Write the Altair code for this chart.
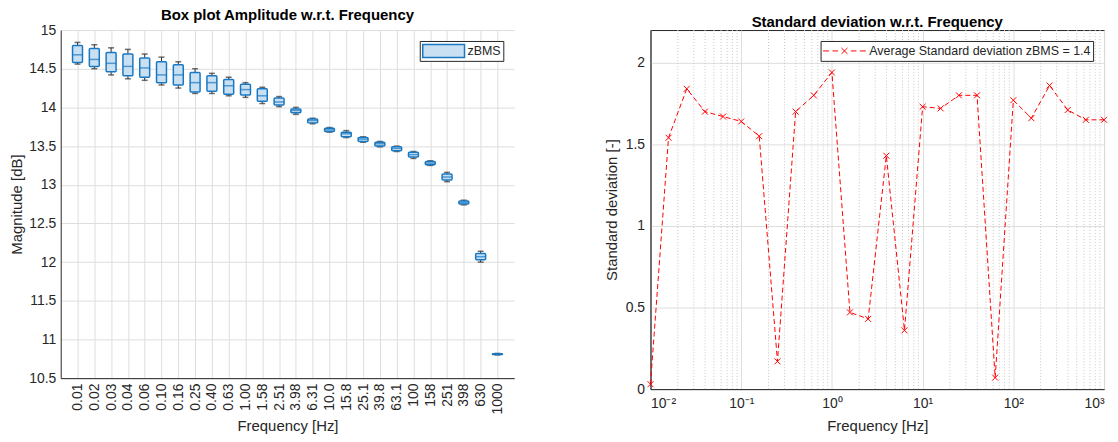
import altair as alt
import pandas as pd

FONT = "Liberation Sans"
TXT = "#262626"
GRID = "#dedede"
BLUE = "#1a78c2"
FILL = "#c8e0f2"
RED = "#ff0000"

# ---------------- data: box plot ----------------
freq_labels = ["0.01", "0.02", "0.03", "0.04", "0.06", "0.10", "0.16", "0.25", "0.40",
               "0.63", "1.00", "1.58", "2.51", "3.98", "6.31", "10.0", "15.8", "25.1",
               "39.8", "63.1", "100", "158", "251", "398", "630", "1000"]
whisker_hi = [14.84, 14.81, 14.77, 14.75, 14.69, 14.65, 14.59, 14.50, 14.44, 14.39, 14.32,
              14.26, 14.14, 14.00, 13.86, 13.74, 13.70, 13.62, 13.56, 13.50, 13.43, 13.31,
              13.16, 12.80, 12.14, 10.82]
box_q3 = [14.80, 14.76, 14.71, 14.69, 14.64, 14.59, 14.55, 14.45, 14.41, 14.36, 14.30,
          14.24, 14.12, 13.98, 13.85, 13.73, 13.68, 13.61, 13.55, 13.49, 13.42, 13.30,
          13.14, 12.79, 12.11, 10.815]
box_median = [14.68, 14.62, 14.57, 14.53, 14.51, 14.42, 14.42, 14.32, 14.32, 14.28, 14.23,
              14.15, 14.07, 13.96, 13.83, 13.71, 13.66, 13.59, 13.53, 13.47, 13.39, 13.28,
              13.10, 12.77, 12.07, 10.81]
box_q1 = [14.58, 14.53, 14.46, 14.41, 14.39, 14.32, 14.29, 14.20, 14.21, 14.17, 14.16,
          14.08, 14.03, 13.93, 13.80, 13.69, 13.62, 13.56, 13.50, 13.44, 13.36, 13.26,
          13.06, 12.75, 12.03, 10.805]
whisker_lo = [14.56, 14.50, 14.42, 14.37, 14.35, 14.29, 14.25, 14.18, 14.18, 14.15, 14.13,
              14.05, 14.01, 13.91, 13.79, 13.68, 13.61, 13.55, 13.49, 13.43, 13.34, 13.25,
              13.04, 12.74, 12.00, 10.80]
magnitude_ticks = [10.5, 11, 11.5, 12, 12.5, 13, 13.5, 14, 14.5, 15]

# ---------------- data: standard deviation ----------------
freq_hz = [0.01, 0.0158, 0.0251, 0.0398, 0.0631, 0.1, 0.158, 0.251, 0.398, 0.631, 1.0,
           1.58, 2.51, 3.98, 6.31, 10.0, 15.8, 25.1, 39.8, 63.1, 100, 158, 251, 398, 630, 1000]
std_dev = [0.03, 1.54, 1.84, 1.70, 1.67, 1.64, 1.55, 0.17, 1.70, 1.80, 1.94,
           0.47, 0.43, 1.43, 0.36, 1.73, 1.72, 1.80, 1.80, 0.07, 1.77, 1.66, 1.86, 1.71, 1.65, 1.65]
std_ticks = [0, 0.5, 1, 1.5, 2]
decade_ticks = [0.01, 0.1, 1, 10, 100, 1000]
minor_grid_hz = [m * d for d in [0.01, 0.1, 1, 10, 100] for m in [2, 3, 4, 5, 6, 7, 8, 9]]
legend_left = "zBMS"
legend_right = "Average Standard deviation zBMS = 1.4"

box_df = pd.DataFrame({"freq": freq_labels, "hi": whisker_hi, "q3": box_q3,
                       "med": box_median, "q1": box_q1, "lo": whisker_lo,
                       "series": legend_left})
std_df = pd.DataFrame({"f": freq_hz, "s": std_dev, "series": legend_right})
minor_df = pd.DataFrame({"m": minor_grid_hz})

common_axis = dict(domainColor=TXT, labelColor=TXT, titleColor=TXT, labelFont=FONT,
                   titleFont=FONT, labelFontSize=14, titleFontSize=15,
                   titleFontWeight="normal", ticks=False, gridColor=GRID,
                   labelOverlap=False, tickCount=30)

# ---------------- left: box plot ----------------
xl = alt.X("freq:N", sort=freq_labels, scale=alt.Scale(type="point", padding=1),
           axis=alt.Axis(title="Frequency [Hz]", labelAngle=270, labelAlign="right",
                         labelBaseline="middle", labelPadding=5, titlePadding=4,
                         grid=True, **common_axis))
yscale = alt.Scale(domain=[10.5, 15], nice=False, zero=False)
yaxis = alt.Axis(title="Magnitude [dB]", values=magnitude_ticks, format="~g",
                 labelPadding=5, titlePadding=4, grid=True, **common_axis)

base = alt.Chart(box_df)
whisk = base.mark_rule(color="#333333", strokeWidth=1).encode(
    x=xl, y=alt.Y("lo:Q", scale=yscale, axis=yaxis), y2="hi:Q")
cap_hi = base.mark_tick(color="#333333", size=6, thickness=1.5).encode(x=xl, y="hi:Q")
cap_lo = base.mark_tick(color="#333333", size=6, thickness=1.5).encode(x=xl, y="lo:Q")
boxes = base.mark_bar(size=10, stroke=BLUE, strokeWidth=1.5, cornerRadius=1).encode(
    x=xl, y="q1:Q", y2="q3:Q",
    fill=alt.Fill("series:N", scale=alt.Scale(domain=[legend_left], range=[FILL]),
                  legend=alt.Legend(title=None, orient="top-right", offset=11,
                                    symbolType="M-1,-0.31H1V0.31H-1Z", symbolSize=1764,
                                    symbolStrokeColor=BLUE, symbolStrokeWidth=1.5,
                                    clipHeight=16, padding=2, labelOffset=2,
                                    strokeColor=TXT, fillColor="white",
                                    labelFont=FONT, labelFontSize=12.5, labelColor=TXT)))
med = base.mark_tick(color=BLUE, size=10, thickness=1.5).encode(x=xl, y="med:Q")

left = alt.layer(whisk, cap_hi, cap_lo, boxes, med).properties(
    width=456, height=350,
    title=alt.TitleParams("Box plot Amplitude w.r.t. Frequency", font=FONT, fontSize=15,
                          fontWeight="bold", color="black", offset=0),
    view=alt.ViewBackground(stroke="transparent"))

# ---------------- right: standard deviation ----------------
xr_scale = alt.Scale(type="log", domain=[0.01, 1000], nice=False)
label_expr = ("datum.value < 0.05 ? '10\u207b\u00b2' : datum.value < 0.5 ? '10\u207b\u00b9' : "
              "datum.value < 5 ? '10\u2070' : datum.value < 50 ? '10\u00b9' : "
              "datum.value < 500 ? '10\u00b2' : '10\u00b3'")
xr = alt.X("f:Q", scale=xr_scale,
           axis=alt.Axis(title="Frequency [Hz]", values=decade_ticks, labelExpr=label_expr,
                         labelPadding=8, titlePadding=8, grid=True, **common_axis))
yr_scale = alt.Scale(domain=[0, 2.2], nice=False, zero=True)
yr = alt.Y("s:Q", scale=yr_scale,
           axis=alt.Axis(title="Standard deviation [-]", values=std_ticks, format="~g",
                         labelPadding=6, titlePadding=6, grid=True, **common_axis))

minor = alt.Chart(minor_df).mark_rule(color="#c8c8c8", strokeDash=[1, 2], strokeWidth=1).encode(
    x=alt.X("m:Q", scale=xr_scale))
legend_sym = ("M-1,0H-0.72M-0.56,0H-0.3M0.3,0H0.56M0.72,0H1"
              "M-0.14,-0.14L0.14,0.14M-0.14,0.14L0.14,-0.14")
line = alt.Chart(std_df).mark_line(strokeWidth=1, strokeDash=[5, 3]).encode(
    x=xr, y=yr,
    stroke=alt.Stroke("series:N", scale=alt.Scale(domain=[legend_right], range=[RED]),
                      legend=alt.Legend(title=None, orient="top-right", offset=11,
                                        symbolType=legend_sym, symbolSize=1849,
                                        symbolStrokeWidth=1, symbolFillColor="transparent",
                                        clipHeight=16, padding=2, labelOffset=3,
                                        labelLimit=400, strokeColor=TXT, fillColor="white",
                                        labelFont=FONT, labelFontSize=12.5, labelColor=TXT)))
pts = alt.Chart(std_df).mark_point(shape="M-1,-1L1,1M-1,1L1,-1", size=36, color=RED,
                                   filled=False, strokeWidth=1, opacity=1).encode(x=xr, y=yr)

right = alt.layer(minor, line, pts).properties(
    width=456, height=361,
    title=alt.TitleParams("Standard deviation w.r.t. Frequency", font=FONT, fontSize=15,
                          fontWeight="bold", color="black", offset=0),
    view=alt.ViewBackground(stroke=TXT))

chart = alt.hconcat(left, right, spacing=89).resolve_legend(
    fill="independent", stroke="independent").properties(
    padding={"left": 1, "top": -2, "right": 0, "bottom": 0},
    background="white")

chart.save("out.html", embed_options={"renderer": "svg", "actions": False})
